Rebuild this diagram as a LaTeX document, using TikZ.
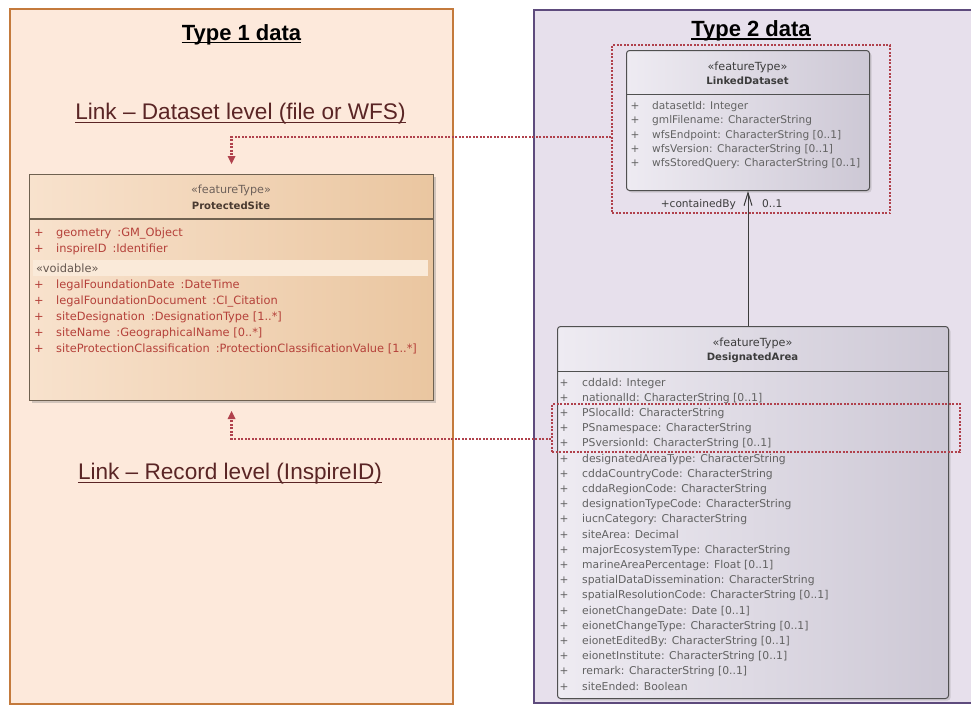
\documentclass[tikz,border=0pt]{standalone}
\usepackage{fontspec}
\setmainfont{Liberation Sans}
\newfontfamily\attrfont{DejaVu Sans}
\usetikzlibrary{arrows.meta,shadings,shadows,calc}
\definecolor{paneAfill}{HTML}{FDE9DB}
\definecolor{paneAline}{HTML}{C47A3C}
\definecolor{paneBfill}{HTML}{E7E0EC}
\definecolor{paneBline}{HTML}{5E4B7D}
\definecolor{psL}{HTML}{F8E2CD}
\definecolor{psR}{HTML}{EAC6A0}
\definecolor{psline}{HTML}{6F6150}
\definecolor{pstext}{HTML}{B5413A}
\definecolor{pshead}{HTML}{4A3A30}
\definecolor{psband}{HTML}{FAEAD9}
\definecolor{clsL}{HTML}{EEEBF2}
\definecolor{clsR}{HTML}{CDC8D5}
\definecolor{clsline}{HTML}{505050}
\definecolor{clstext}{HTML}{626262}
\definecolor{clshead}{HTML}{3C3C3C}
\definecolor{dotred}{HTML}{B0414C}
\definecolor{linktext}{HTML}{5A2525}
\begin{document}
\begin{tikzpicture}[x=1pt,y=-1pt,
  panelA/.style={draw=paneAline,line width=2pt,fill=paneAfill,anchor=north west,inner sep=0pt},
  panelB/.style={draw=paneBline,line width=2pt,fill=paneBfill,anchor=north west,inner sep=0pt},
  psbox/.style={draw=psline,line width=1.1pt,left color=psL,right color=psR,anchor=north west,inner sep=0pt,
    drop shadow={shadow xshift=2.5pt,shadow yshift=-2.5pt,opacity=.35}},
  clsbox/.style={draw=clsline,line width=1pt,left color=clsL,right color=clsR,rounded corners=3pt,anchor=north west,inner sep=0pt,
    drop shadow={shadow xshift=2pt,shadow yshift=-2pt,opacity=.25}},
  selbox/.style={draw=dotred,line width=2.2pt,dash pattern=on 2pt off 1.5pt,anchor=north west,inner sep=0pt},
  link/.style={draw=dotred,line width=2.2pt,dash pattern=on 2pt off 1.5pt,-{Triangle[length=8pt,width=8pt,line width=0pt,fill=dotred]}},
  title/.style={font=\bfseries\fontsize{22}{26}\selectfont,inner sep=0pt,anchor=base},
  linklbl/.style={font=\fontsize{22.6}{26}\selectfont,text=linktext,inner sep=0pt,anchor=base},
  stereo/.style={font=\attrfont\fontsize{11.2}{13}\selectfont,inner sep=0pt,anchor=base},
  cname/.style={font=\attrfont\bfseries\fontsize{10.1}{12}\selectfont,inner sep=0pt,anchor=base},
  psattr/.style={font=\attrfont\fontsize{11.4}{13}\selectfont,text=pstext,inner sep=0pt,anchor=base west},
  psplus/.style={font=\attrfont\fontsize{11.4}{13}\selectfont,text=pstext,inner sep=0pt,anchor=base},
  ldattr/.style={font=\attrfont\fontsize{10.6}{12}\selectfont,text=clstext,inner sep=0pt,anchor=base west},
  daattr/.style={font=\attrfont\fontsize{10.8}{12}\selectfont,text=clstext,inner sep=0pt,anchor=base west},
  clplus/.style={font=\attrfont\fontsize{10.6}{12}\selectfont,text=clstext,inner sep=0pt,anchor=base},
  roleb/.style={font=\attrfont\fontsize{10.6}{12}\selectfont,text=clshead,inner sep=0pt,anchor=base}
]
\useasboundingbox (0,0) rectangle (971,704);
\fill[white] (0,0) rectangle (971,704);

% panels
\node[panelA,minimum width=443pt,minimum height=695pt] (pA) at (9,8) {};
\node[panelB,minimum width=445pt,minimum height=693pt] (pB) at (533,9) {};

% titles
\node[title] (t1) at (241.5,40) {Type 1 data};
\draw[line width=1.4pt] ([yshift=-2.4pt]t1.base west) -- ([yshift=-2.4pt]t1.base east);
\node[title] (t2) at (751,36.5) {Type 2 data};
\draw[line width=1.4pt] ([yshift=-2.4pt]t2.base west) -- ([yshift=-2.4pt]t2.base east);

% link labels
\node[linklbl] (l1) at (240.5,119) {Link -- Dataset level (file or WFS)};
\draw[linktext,line width=1pt] ([yshift=-3.5pt]l1.base west) -- ([yshift=-3.5pt]l1.base east);
\node[linklbl] (l2) at (230,479) {Link -- Record level (InspireID)};
\draw[linktext,line width=1pt] ([yshift=-3.5pt]l2.base west) -- ([yshift=-3.5pt]l2.base east);

% ProtectedSite
\node[psbox,minimum width=404pt,minimum height=226pt] (ps) at (29,174) {};
\draw[psline,line width=1.1pt] (ps.west |- 0,219) -- (ps.east |- 0,219);
\fill[psband] (33,260) rectangle (428,276);
\node[stereo,text=pshead!80] (psst) at (231,193.5) {«featureType»};
\node[cname,text=pshead] (psnm) at (231,209) {ProtectedSite};
\foreach \y/\t [count=\i] in {
  236/{geometry\hspace{6pt}:GM\_Object},
  252/{inspireID\hspace{6pt}:Identifier},
  288/{legalFoundationDate\hspace{6pt}:DateTime},
  304/{legalFoundationDocument\hspace{6pt}:CI\_Citation},
  320/{siteDesignation\hspace{6pt}:DesignationType [1..*]},
  336/{siteName\hspace{6pt}:GeographicalName [0..*]},
  352/{siteProtectionClassification\hspace{6pt}:ProtectionClassificationValue [1..*]}} {
  \node[psplus] (psp\i) at (39,\y) {+};
  \node[psattr] (psa\i) at (56,\y) {\t};
}
\node[psattr,text=pshead!85] (psvoid) at (36,272) {«voidable»};

% LinkedDataset
\node[clsbox,minimum width=243pt,minimum height=140pt] (ld) at (626,50) {};
\draw[clsline,line width=1pt] (ld.west |- 0,94) -- (ld.east |- 0,94);
\node[stereo,text=clshead] (ldst) at (747.5,70) {«featureType»};
\node[cname,text=clshead] (ldnm) at (747.5,84) {LinkedDataset};
\foreach \t [count=\i] in {
  {datasetId: Integer},
  {gmlFilename: CharacterString},
  {wfsEndpoint: CharacterString [0..1]},
  {wfsVersion: CharacterString [0..1]},
  {wfsStoredQuery: CharacterString [0..1]}} {
  \pgfmathsetmacro\yy{109.5+(\i-1)*14.3}
  \node[clplus] (ldp\i) at (635,\yy) {+};
  \node[ldattr] (lda\i) at (652,\yy) {\t};
}

% DesignatedArea
\node[clsbox,minimum width=391pt,minimum height=372pt] (da) at (557,326) {};
\draw[clsline,line width=1pt] (da.west |- 0,371) -- (da.east |- 0,371);
\node[stereo,text=clshead] (dast) at (752.5,346.5) {«featureType»};
\node[cname,text=clshead] (danm) at (752.5,360) {DesignatedArea};
\foreach \t [count=\i] in {
  {cddaId: Integer},
  {nationalId: CharacterString [0..1]},
  {PSlocalId: CharacterString},
  {PSnamespace: CharacterString},
  {PSversionId: CharacterString [0..1]},
  {designatedAreaType: CharacterString},
  {cddaCountryCode: CharacterString},
  {cddaRegionCode: CharacterString},
  {designationTypeCode: CharacterString},
  {iucnCategory: CharacterString},
  {siteArea: Decimal},
  {majorEcosystemType: CharacterString},
  {marineAreaPercentage: Float [0..1]},
  {spatialDataDissemination: CharacterString},
  {spatialResolutionCode: CharacterString [0..1]},
  {eionetChangeDate: Date [0..1]},
  {eionetChangeType: CharacterString [0..1]},
  {eionetEditedBy: CharacterString [0..1]},
  {eionetInstitute: CharacterString [0..1]},
  {remark: CharacterString [0..1]},
  {siteEnded: Boolean}} {
  \pgfmathsetmacro\yy{386+(\i-1)*15.2}
  \node[clplus] (dap\i) at (564,\yy) {+};
  \node[daattr] (daa\i) at (582,\yy) {\t};
}

% association
\draw[clshead,line width=1pt,-{Straight Barb[length=13pt,width=8pt,line width=1pt]}] (da.north -| ld.south) -- (ld.south);
\node[roleb,anchor=base east] (role) at (736,207) {+containedBy};
\node[roleb,anchor=base west] (mult) at (762,207) {0..1};

% selection boxes
\node[selbox,minimum width=278pt,minimum height=168pt] (ldsel) at (611,44) {};
\node[selbox,minimum width=408pt,minimum height=48pt] (dasel) at (551,403) {};

% links
\coordinate (ldin) at (611,137);
\coordinate (dain) at (551,439);
\draw[link] (ldin) -| ([yshift=10pt]ps.north);
\draw[link] (dain) -| ([yshift=-10pt]ps.south);
\end{tikzpicture}
\end{document}
